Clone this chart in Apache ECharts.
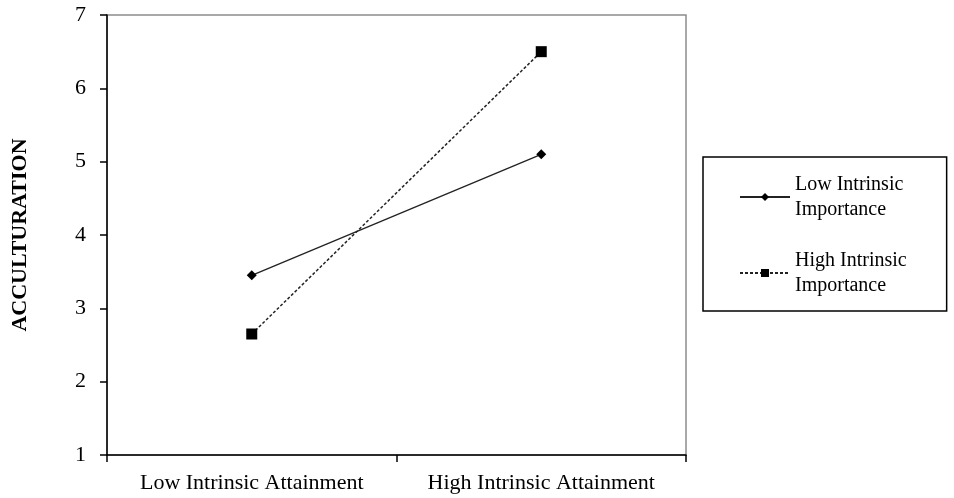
<!DOCTYPE html>
<html>
<head>
<meta charset="utf-8">
<script src="https://cdn.jsdelivr.net/npm/echarts@6/dist/echarts.min.js"></script>
<style>
  html, body { margin: 0; padding: 0; background: #fff; }
  #chart { width: 954px; height: 498px; }
</style>
</head>
<body>
<div id="chart"></div>
<script>
// data
const categories = ['Low Intrinsic Attainment', 'High Intrinsic Attainment']
const lowImportance = [3.45, 5.1]
const highImportance = [2.65, 6.5]
const yTicks = { min: 1, max: 7, interval: 1 }

const font = 'Liberation Serif'
const chart = echarts.init(document.getElementById('chart'))

const option = {
  animation: false,
  backgroundColor: '#fff',
  textStyle: { fontFamily: font, color: '#000' },
  grid: {
    left: 107,
    top: 15,
    right: 268,
    bottom: 43,
    show: true,
    borderColor: '#8c8c8c',
    borderWidth: 1.5
  },
  legend: {
    orient: 'vertical',
    left: 703,
    top: 157,
    padding: [15, 40, 13, 36],
    borderColor: '#000',
    borderWidth: 1.5,
    itemWidth: 50,
    itemHeight: 10,
    itemGap: 26,
    textStyle: { fontFamily: font, fontSize: 20, color: '#000', lineHeight: 25 },
    data: ['Low Intrinsic\nImportance', 'High Intrinsic\nImportance']
  },
  xAxis: {
    type: 'category',
    data: categories,
    boundaryGap: true,
    axisLine: { lineStyle: { color: '#000', width: 1.5 } },
    axisTick: { show: true, interval: 0, length: 7, lineStyle: { color: '#000', width: 1.5 } },
    axisLabel: { interval: 0, fontFamily: font, fontSize: 22, color: '#000', margin: 17 },
    splitLine: { show: false }
  },
  yAxis: {
    type: 'value',
    min: yTicks.min,
    max: yTicks.max,
    interval: yTicks.interval,
    name: 'ACCULTURATION',
    nameLocation: 'middle',
    nameGap: 76,
    nameRotate: 90,
    nameTextStyle: { fontFamily: font, fontSize: 22, fontWeight: 'bold', color: '#000' },
    axisLine: { show: true, lineStyle: { color: '#000', width: 1.5 } },
    axisTick: { show: true, length: 7, lineStyle: { color: '#000', width: 1.5 } },
    axisLabel: { fontFamily: font, fontSize: 22, color: '#000', margin: 21 },
    splitLine: { show: false }
  },
  series: [
    {
      name: 'Low Intrinsic\nImportance',
      type: 'line',
      data: lowImportance,
      symbol: 'diamond',
      symbolSize: 10,
      itemStyle: { color: '#000' },
      lineStyle: { color: '#222', width: 1.3, type: 'solid' }
    },
    {
      name: 'High Intrinsic\nImportance',
      type: 'line',
      data: highImportance,
      symbol: 'rect',
      symbolSize: 11,
      itemStyle: { color: '#000' },
      lineStyle: { color: '#222', width: 1.5, type: [3, 2] }
    }
  ]
}

chart.setOption(option)
</script>
</body>
</html>
